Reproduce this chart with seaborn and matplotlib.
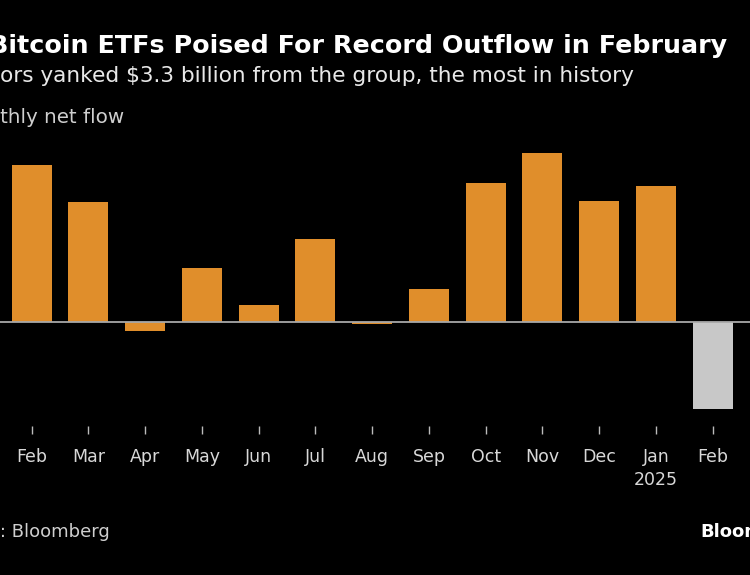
import matplotlib
matplotlib.use("Agg")
import matplotlib.pyplot as plt
import seaborn as sns
import pandas as pd

# monthly net flow of US spot bitcoin ETFs, $ billions (Feb 2025 month to date)
months = ["2024-02", "2024-03", "2024-04", "2024-05", "2024-06", "2024-07", "2024-08",
          "2024-09", "2024-10", "2024-11", "2024-12", "2025-01", "2025-02"]
tick_labels = ["Feb", "Mar", "Apr", "May", "Jun", "Jul", "Aug",
               "Sep", "Oct", "Nov", "Dec", "Jan\n2025", "Feb"]
net_flow_bn = [5.97, 4.58, -0.33, 2.06, 0.67, 3.15, -0.08,
               1.25, 5.27, 6.41, 4.60, 5.18, -3.30]

ORANGE = "#E08E2B"
GRAY = "#C8C8C8"
W, H = 750, 575

df = pd.DataFrame({"month": months, "flow": net_flow_bn})
palette = {m: ORANGE for m in months}
palette[months[-1]] = GRAY  # current (partial) month

sns.set_style("dark", {"axes.facecolor": "black", "figure.facecolor": "black"})
plt.rcParams["font.family"] = ["DejaVu Sans"]

fig = plt.figure(figsize=(W / 100, H / 100), dpi=100)


def px(x, y):
    return x / W, 1 - y / H


# axes span the full width, bottom at the tick marks
ax_top, ax_bottom = 140, 426
ax = fig.add_axes([0, 1 - ax_bottom / H, 1, (ax_bottom - ax_top) / H])
sns.barplot(data=df, x="month", y="flow", hue="month", palette=palette,
            legend=False, width=0.705, saturation=1, linewidth=0, ax=ax)

step = 56.75
first = 31.7
ax.set_xlim(-first / step, (W - first) / step)
scale = 26.36  # px per $bn
zero_y = 322.3
ax.set_ylim(-(ax_bottom - zero_y) / scale, (zero_y - ax_top) / scale)
ax.axhline(0, color="#A8A8A8", linewidth=1.3, zorder=3)

ax.set_xticks(range(len(months)))
ax.set_xticklabels(tick_labels, color="#D8D8D8", fontsize=12.5, linespacing=1.35)
ax.tick_params(axis="x", bottom=True, direction="out", length=6, width=1,
               color="#BBBBBB", pad=10)
ax.set_yticks([])
ax.set_xlabel("")
ax.set_ylabel("")
ax.grid(False)
for s in ax.spines.values():
    s.set_visible(False)

r = fig.canvas.get_renderer()


def width_px(s, **kw):
    t = fig.text(0, 0, s, **kw)
    w = t.get_window_extent(r).width
    t.remove()
    return w


title_kw = dict(fontsize=18.3, fontweight="bold", color="white")
sub_kw = dict(fontsize=15.6, color="#E8E8E8")
unit_kw = dict(fontsize=14.3, color="#CFCFCF")
src_kw = dict(fontsize=13, color="#CFCFCF")

# left edge of the original chart is cropped away
x0 = -0.55 * width_px("B", **title_kw)
fig.text(*px(x0, 53), "Bitcoin ETFs Poised For Record Outflow in February", va="baseline", **title_kw)
x0 = -width_px("Invest", **sub_kw)
fig.text(*px(x0, 82), "Investors yanked $3.3 billion from the group, the most in history", va="baseline", **sub_kw)
x0 = -width_px("Mon", **unit_kw)
fig.text(*px(x0, 123), "Monthly net flow", va="baseline", **unit_kw)
x0 = -width_px("Source", **src_kw)
fig.text(*px(x0, 537), "Source: Bloomberg", va="baseline", **src_kw)
fig.text(*px(700, 537), "Bloomberg", va="baseline", fontsize=13, fontweight="bold", color="white")

fig.savefig("out.png", dpi=100, facecolor="black")
